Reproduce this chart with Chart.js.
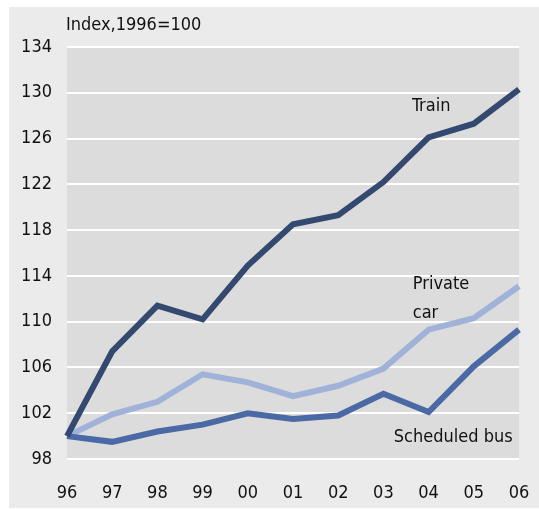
<!DOCTYPE html>
<html>
<head>
<meta charset="utf-8">
<script src="https://cdn.jsdelivr.net/npm/chart.js@4/dist/chart.umd.min.js"></script>
<style>
  html, body { margin: 0; padding: 0; background: #ffffff; overflow: hidden; }
  canvas { display: block; }
</style>
</head>
<body>
<canvas id="chart" width="539" height="509"></canvas>
<script>
  'use strict';

  const years = ['96', '97', '98', '99', '00', '01', '02', '03', '04', '05', '06'];
  const train = [100, 107.4, 111.4, 110.2, 114.9, 118.5, 119.3, 122.2, 126.1, 127.3, 130.3];
  const privateCar = [100, 101.9, 103.0, 105.4, 104.7, 103.5, 104.4, 105.9, 109.3, 110.3, 113.1];
  const scheduledBus = [100, 99.5, 100.4, 101.0, 102.0, 101.5, 101.8, 103.7, 102.1, 106.1, 109.3];
  const yTicks = [98, 102, 106, 110, 114, 118, 122, 126, 130, 134];

  const fontFamily = '"DejaVu Sans Condensed", "Liberation Sans Narrow", "Liberation Sans", sans-serif';
  const textColor = '#111111';

  // series labels, anchored in data units (x = category index, y = index value)
  const seriesLabels = [
    { lines: ['Train'], x: 7.63, y: 128.8 },
    { lines: ['Private', 'car'], x: 7.65, y: 113.3 },
    { lines: ['Scheduled bus'], x: 7.23, y: 99.85 }
  ];

  const backgroundPlugin = {
    id: 'panelBackground',
    beforeDraw(chart) {
      const ctx = chart.ctx;
      const area = chart.chartArea;
      ctx.save();
      ctx.fillStyle = '#ebebeb';
      ctx.fillRect(9, 7, chart.width - 9, chart.height - 8);
      ctx.fillStyle = '#dcdcdc';
      ctx.fillRect(area.left, area.top, area.right - area.left, area.bottom - area.top);
      ctx.restore();
    },
    afterDraw(chart) {
      const ctx = chart.ctx;
      const xs = chart.scales.x;
      const ys = chart.scales.y;
      ctx.save();
      ctx.fillStyle = textColor;
      ctx.textBaseline = 'middle';
      ctx.textAlign = 'left';
      ctx.font = '18px ' + fontFamily;
      ctx.fillText('Index,1996=100', 66, 25);
      seriesLabels.forEach(function (lab) {
        const px = xs.getPixelForValue(lab.x);
        const py = ys.getPixelForValue(lab.y);
        lab.lines.forEach(function (t, i) {
          ctx.fillText(t, px, py + i * 29);
        });
      });
      ctx.restore();
    }
  };

  function init() {
    new Chart(document.getElementById('chart'), {
      type: 'line',
      data: {
        labels: years,
        datasets: [
          { label: 'Train', data: train, borderColor: '#34496f' },
          { label: 'Scheduled bus', data: scheduledBus, borderColor: '#4b69a4' },
          { label: 'Private car', data: privateCar, borderColor: '#a0b2d8' }
        ]
      },
      options: {
        responsive: false,
        maintainAspectRatio: false,
        animation: false,
        layout: { padding: { left: 0, right: 20, top: 47, bottom: 0 } },
        elements: {
          line: { borderWidth: 6, tension: 0, fill: false },
          point: { radius: 0, hoverRadius: 0 }
        },
        plugins: {
          legend: { display: false },
          tooltip: { enabled: false }
        },
        scales: {
          x: {
            offset: false,
            grid: { display: false, drawTicks: false },
            border: { display: false },
            ticks: {
              color: textColor,
              font: { family: fontFamily, size: 18 },
              padding: 24,
              maxRotation: 0,
              autoSkip: false
            },
            afterFit(scale) {
              scale.height = 50;
              scale.paddingLeft = 0;
              scale.paddingRight = 0;
            }
          },
          y: {
            min: 98,
            max: 134,
            afterBuildTicks(scale) {
              scale.ticks = yTicks.map(function (v) { return { value: v }; });
            },
            grid: { color: '#ffffff', lineWidth: 2, drawTicks: false },
            border: { display: false },
            ticks: {
              color: textColor,
              font: { family: fontFamily, size: 18 },
              padding: 15
            },
            afterFit(scale) { scale.width = 67; }
          }
        }
      },
      plugins: [backgroundPlugin]
    });
  }

  init();
</script>
</body>
</html>
